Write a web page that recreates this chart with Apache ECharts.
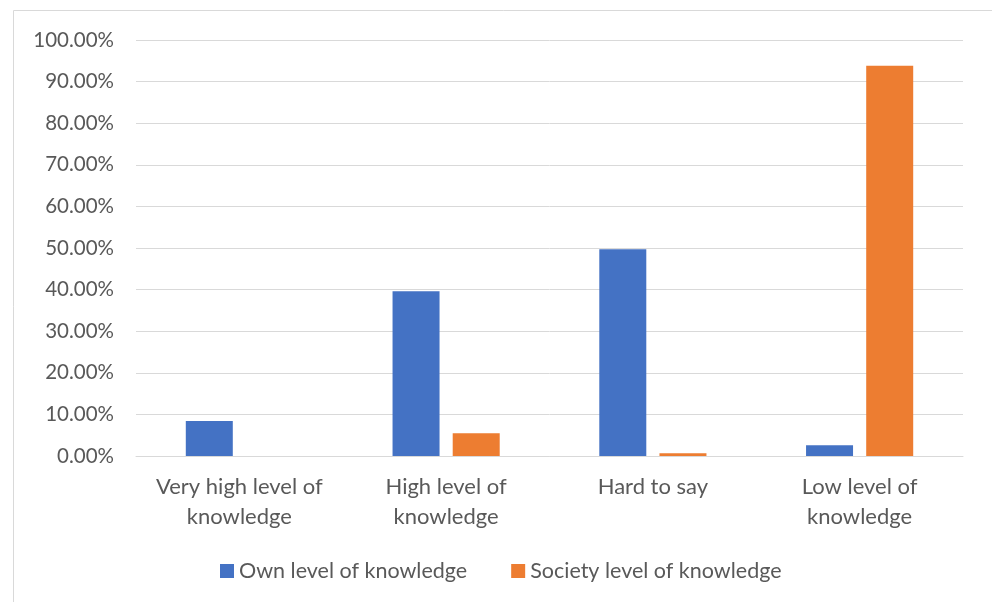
<!DOCTYPE html>
<html>
<head>
<meta charset="utf-8">
<script src="https://cdn.jsdelivr.net/npm/echarts@6/dist/echarts.min.js"></script>
<style>
  html, body { margin: 0; padding: 0; background: #fff; }
  #chart { width: 992px; height: 602px; }
</style>
</head>
<body>
<div id="chart"></div>
<script>
const categories = ['Very high level of\nknowledge', 'High level of\nknowledge', 'Hard to say', 'Low level of\nknowledge']
const ownLevel = [8.4, 39.6, 49.7, 2.6]
const societyLevel = [0, 5.45, 0.65, 93.8]
const seriesNames = ['Own level of knowledge', 'Society level of knowledge']

const textColor = '#595959'
const font = 'Lato'

const myChart = echarts.init(document.getElementById('chart'))

myChart.setOption({
  animation: false,
  textStyle: { fontFamily: font },
  graphic: [
    {
      type: 'rect',
      shape: { x: 13.5, y: 10.5, width: 990, height: 600 },
      style: { fill: 'none', stroke: '#d9d9d9', lineWidth: 1 },
      silent: true,
    },
  ],
  legend: {
    top: 555,
    left: 215,
    itemWidth: 14,
    itemHeight: 14,
    itemGap: 44,
    icon: 'rect',
    data: seriesNames,
    textStyle: { color: textColor, fontSize: 21.5, fontFamily: font },
  },
  grid: {
    left: 136,
    right: 29,
    top: 40,
    bottom: 146,
  },
  xAxis: {
    type: 'category',
    data: categories,
    axisLine: { lineStyle: { color: '#d9d9d9', width: 1 } },
    axisTick: { show: false },
    axisLabel: {
      interval: 0,
      color: textColor,
      fontSize: 22,
      lineHeight: 30,
      margin: 16,
      fontFamily: font,
    },
  },
  yAxis: {
    type: 'value',
    min: 0,
    max: 100,
    interval: 10,
    axisLine: { show: false },
    axisTick: { show: false },
    splitLine: { lineStyle: { color: '#d9d9d9', width: 1 } },
    axisLabel: {
      color: textColor,
      fontSize: 20.5,
      margin: 22,
      fontFamily: font,
      formatter: (value) => value.toFixed(2) + '%',
    },
  },
  series: [
    {
      name: seriesNames[0],
      type: 'bar',
      data: ownLevel,
      color: '#4472C4',
      barWidth: 47,
      barGap: '28%',
    },
    {
      name: seriesNames[1],
      type: 'bar',
      data: societyLevel,
      color: '#ED7D31',
      barWidth: 47,
      barGap: '28%',
    },
  ],
})
</script>
</body>
</html>
